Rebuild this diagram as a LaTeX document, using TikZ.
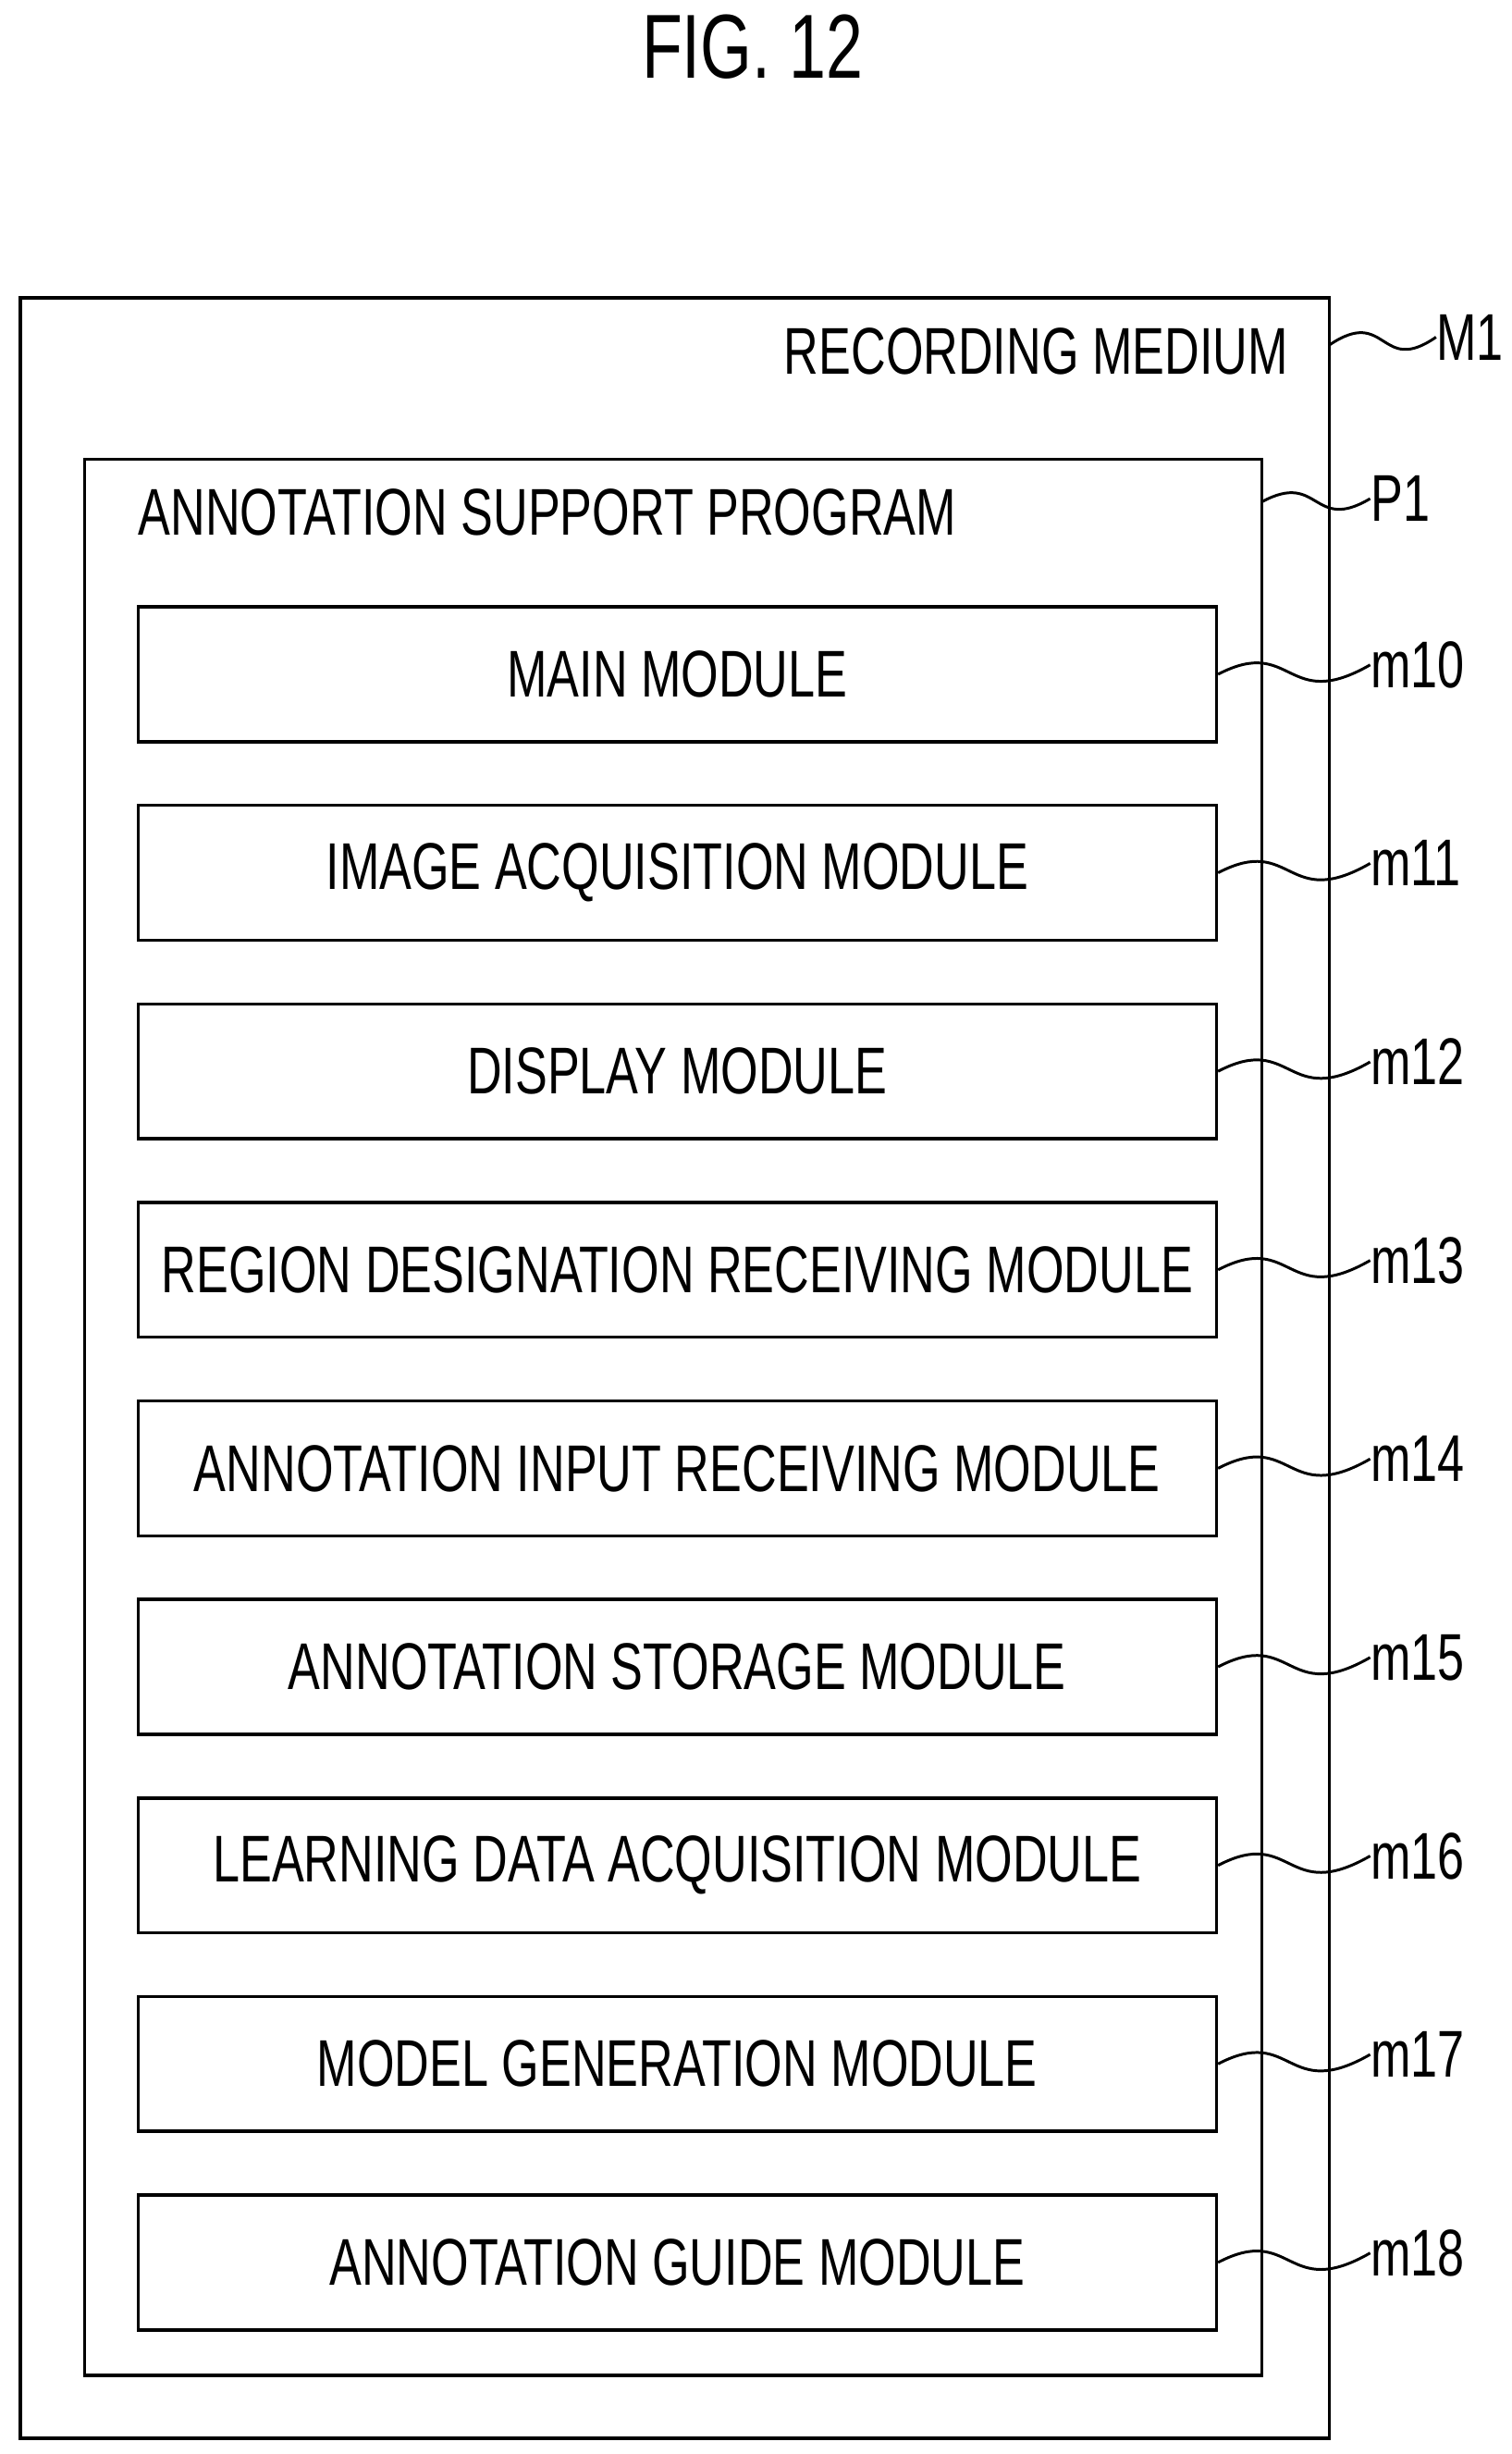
\documentclass[tikz,border=0pt]{standalone}
\usepackage{fontspec}
\setmainfont{Liberation Sans}[FakeStretch=0.73]
\usetikzlibrary{positioning,calc}
\begin{document}
\begin{tikzpicture}[x=0.02cm,y=-0.02cm]
   \tikzset{module/.style = {rectangle, draw, line width=1.2pt, minimum width=13.76cm, minimum height=1.72cm, font=\fontsize{24}{28}\selectfont}, }
   \tikzset{frame/.style = {draw, line width=1.2pt} }
   \tikzset{tag/.style = {anchor=west, inner sep=0pt, font=\fontsize{24}{28}\selectfont} }
   \tikzset{leader/.style = {line width=1pt} }
   \useasboundingbox (0,0) rectangle (964,1565);
   \node[font=\fontsize{33}{38}\selectfont] (fig) at (480,30) {FIG. 12};
   % recording medium and program
   \draw[frame] (13,190) rectangle (848,1555);
   \node[tag, anchor=east] (medium) at (822,224) {RECORDING MEDIUM};
   \draw[frame] (54,293) rectangle (805,1515);
   \node[tag] (program) at (88,327) {ANNOTATION SUPPORT PROGRAM};
   \coordinate (M1end) at (848,220);
   \node[tag] (M1) at (916,215) {M1};
   \coordinate (P1end) at (805,320);
   \node[tag] (P1) at (874,318) {P1};
   \draw[leader] (M1end) .. controls (885,195) and (880,240) .. (M1.west);
   \draw[leader] (P1end) .. controls (842,300) and (837,340) .. (P1.west);
   % modules
   \foreach \i/\txt [count=\k from 0] in {10/MAIN MODULE, 11/IMAGE ACQUISITION MODULE, 12/DISPLAY MODULE,
      13/REGION DESIGNATION RECEIVING MODULE, 14/ANNOTATION INPUT RECEIVING MODULE,
      15/ANNOTATION STORAGE MODULE, 16/LEARNING DATA ACQUISITION MODULE,
      17/MODEL GENERATION MODULE, 18/ANNOTATION GUIDE MODULE} {
     \node[module] (m\i) at (432,430+126.6*\k) {\txt};
     \node[tag] (lm\i) at (874,424+126.6*\k) {m\i};
     \draw[leader] (m\i.east) .. controls (825,405+126.6*\k) and (820,455+126.6*\k) .. (lm\i.west);
   }
\end{tikzpicture}
\end{document}
